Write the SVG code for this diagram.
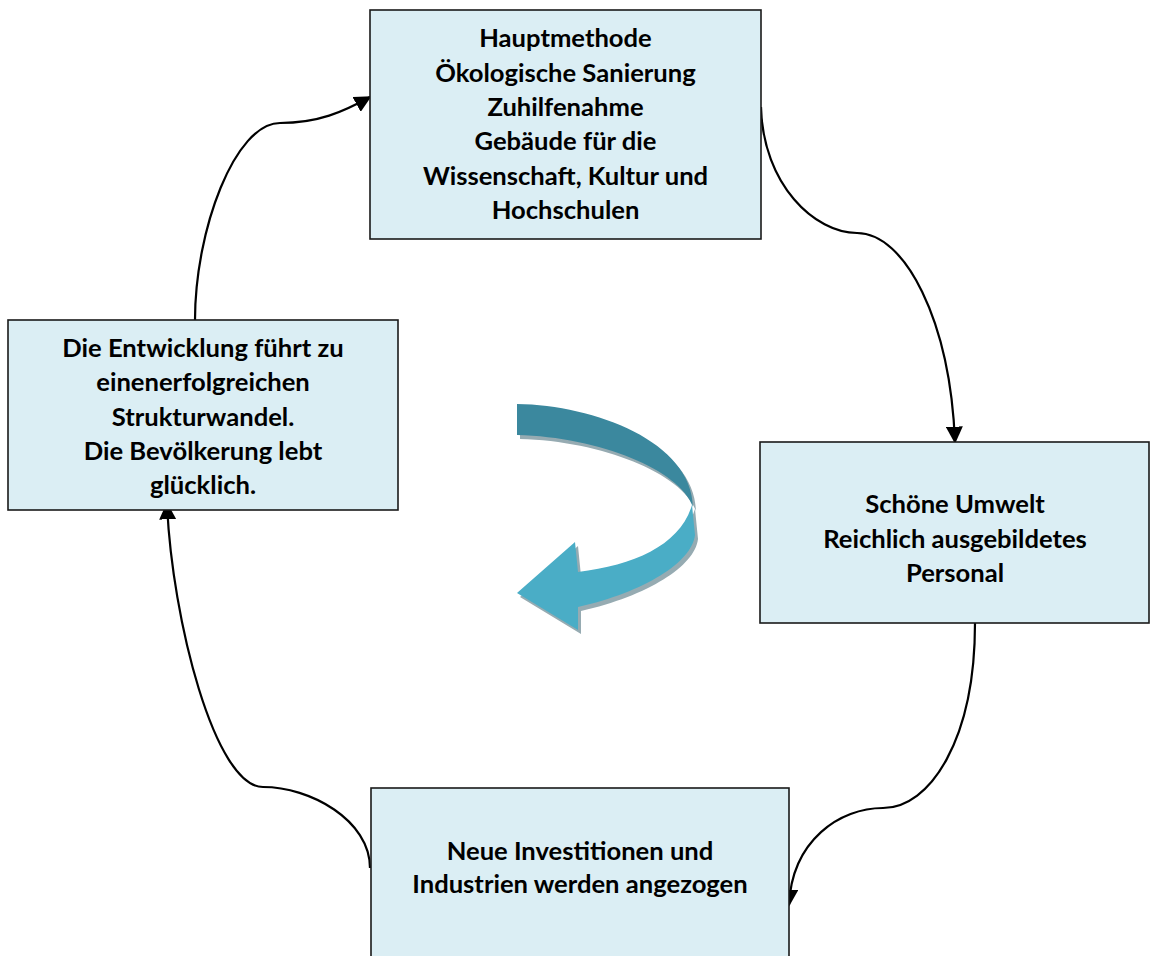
<svg xmlns="http://www.w3.org/2000/svg" width="1150" height="956" viewBox="0 0 1150 956">
<style>
.box{fill:#dbeef4;stroke:#1a1a1a;stroke-width:1.6}
.t{font-family:Lato,"Liberation Sans",sans-serif;font-weight:700;font-size:25.6px;fill:#000;text-anchor:middle}
.c{fill:none;stroke:#000;stroke-width:2.2}
</style>
<defs>
<marker id="ah" viewBox="0 0 10 10" refX="9" refY="5" markerWidth="17" markerHeight="17" markerUnits="userSpaceOnUse" orient="auto">
<path d="M0,0 L10,5 L0,10 z" fill="#000"/>
</marker>
</defs>
<rect width="1150" height="956" fill="#fff"/>

<g id="bluearrow">
<g transform="translate(3,4)" fill="#96abb2">
<path d="M517,404 C595,405 692,442 693,507 C680,470 600,437 517,435 Z"/>
<path d="M692,505 L695,535 C692,562 645,592 578,607 L578,630 L517,593 L575,542 L578,572 C635,565 680,545 692,505 Z"/>
</g>
<path d="M517,404 C595,405 692,442 693,507 C680,470 600,437 517,435 Z" fill="#3b889e"/>
<path d="M692,505 L695,535 C692,562 645,592 578,607 L578,630 L517,593 L575,542 L578,572 C635,565 680,545 692,505 Z" fill="#4aadc6"/>
</g>

<g id="connectors">
<path class="c" d="M195,320 C195,230 235,123 280,123 C318,123 343,112 370,97" marker-end="url(#ah)"/>
<path class="c" d="M761,107 C763,185 815,233 857,233 C905,233 950,320 955,442" marker-end="url(#ah)"/>
<path class="c" d="M975,623 C975,740 930,808 883,808 C840,808 792,840 789,905" marker-end="url(#ah)"/>
<path class="c" d="M370,868 C370,820 310,787 263,787 C215,787 172,620 167,504" marker-end="url(#ah)"/>
</g>

<g id="node-top">
<rect class="box" x="370" y="10" width="391" height="229"/>
<text class="t" x="565.5" y="47">Hauptmethode</text>
<text class="t" x="565.5" y="82">Ökologische Sanierung</text>
<text class="t" x="565.5" y="116">Zuhilfenahme</text>
<text class="t" x="565.5" y="150">Gebäude für die</text>
<text class="t" x="565.5" y="185">Wissenschaft, Kultur und</text>
<text class="t" x="565.5" y="219">Hochschulen</text>
</g>

<g id="node-left">
<rect class="box" x="8" y="320" width="390" height="190"/>
<text class="t" x="203" y="357">Die Entwicklung führt zu</text>
<text class="t" x="203" y="391">einenerfolgreichen</text>
<text class="t" x="203" y="426">Strukturwandel.</text>
<text class="t" x="203" y="460">Die Bevölkerung lebt</text>
<text class="t" x="203" y="494">glücklich.</text>
</g>

<g id="node-right">
<rect class="box" x="760" y="442" width="389" height="181"/>
<text class="t" x="955" y="513">Schöne Umwelt</text>
<text class="t" x="955" y="548">Reichlich ausgebildetes</text>
<text class="t" x="955" y="582">Personal</text>
</g>

<g id="node-bottom">
<rect class="box" x="371" y="788" width="418" height="180"/>
<text class="t" x="580" y="860">Neue Investitionen und</text>
<text class="t" x="580" y="893">Industrien werden angezogen</text>
</g>
</svg>
